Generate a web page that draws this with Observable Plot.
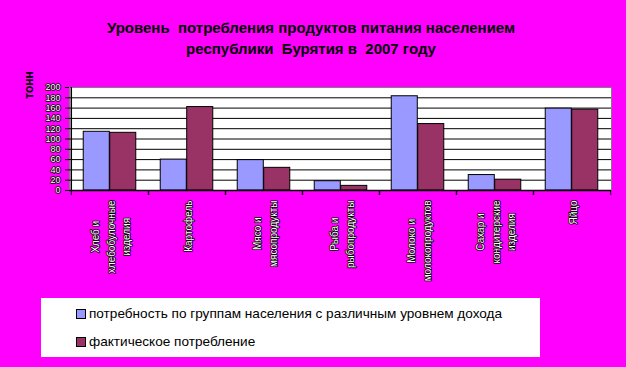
<!DOCTYPE html>
<html>
<head>
<meta charset="utf-8">
<script src="https://cdn.jsdelivr.net/npm/d3@7"></script>
<script src="https://cdn.jsdelivr.net/npm/@observablehq/plot@0.6"></script>
<style>
  html, body { margin: 0; padding: 0; background: #FF00FF; }
  #wrap { position: relative; width: 626px; height: 367px; background: #FF00FF; overflow: hidden; font-family: Arial, "Liberation Sans", sans-serif; }
  #title { position: absolute; left: 0; width: 622px; top: 17px; text-align: center; font-weight: bold; font-size: 15px; line-height: 21px; color: #000; white-space: pre; }
  #chart { position: absolute; left: 0; top: 0; }
  #legend { position: absolute; left: 41px; top: 298px; width: 499px; height: 59px; background: #fff; font-size: 13.6px; color: #000; }
  .row { position: absolute; left: 35px; height: 16px; line-height: 16px; white-space: nowrap; }
  .sw { display: inline-block; width: 8px; height: 8px; border: 1px solid #000; margin-right: 3px; vertical-align: -1px; }
</style>
</head>
<body>
<div id="wrap">
  <div id="chart"></div>
  <div id="title"></div>
  <div id="legend"></div>
</div>
<script>
const titleLines = ["Уровень  потребления продуктов питания населением", "республики  Бурятия в  2007 году"];
const categories = ["Хлеб и\nхлебобулочные\nизделия", "Картофель", "Мясо и\nмясопродукты", "Рыба и\nрыбопродукты", "Молоко и\nмолокопродуктов", "Сахар и\nкондитерские\nизделия", "Яйцо"];
const seriesNames = ["потребность по группам населения с различным уровнем дохода", "фактическое потребление"];
const needValues = [114, 60, 59, 18, 183, 30, 159];
const actualValues = [112, 162, 44, 9, 129, 21, 157];
const seriesColors = ["#9999FF", "#993366"];
const yTicks = [0, 20, 40, 60, 80, 100, 120, 140, 160, 180, 200];
const yLabel = "тонн";

const W = 626, H = 367, mL = 69, mR = 15, mT = 87, mB = 177;
const step = (W - mL - mR) / categories.length;
const pad = step * 0.158, bw = step * 0.342;

const needData = categories.map((c, i) => ({cat: c, v: needValues[i]}));
const actualData = categories.map((c, i) => ({cat: c, v: actualValues[i]}));

document.getElementById("title").textContent = titleLines.join("\n");
const leg = document.getElementById("legend");
seriesNames.forEach((s, i) => {
  const r = document.createElement("div");
  r.className = "row";
  r.style.top = (i === 0 ? 8 : 36) + "px";
  const sw = document.createElement("span");
  sw.className = "sw";
  sw.style.background = seriesColors[i];
  r.appendChild(sw);
  r.appendChild(document.createTextNode(s));
  leg.appendChild(r);
});

const chart = Plot.plot({
  width: W, height: H,
  marginLeft: mL, marginRight: mR, marginTop: mT, marginBottom: mB,
  style: {background: "transparent", fontFamily: "Arial, 'Liberation Sans', sans-serif", overflow: "visible"},
  x: {domain: categories, padding: 0, axis: null},
  y: {domain: [0, 200], axis: null},
  marks: [
    Plot.frame({fill: "white", stroke: "#808080"}),
    Plot.ruleY(yTicks.filter(t => t > 0 && t < 200), {stroke: "black", strokeWidth: 1}),
    Plot.barY(needData, {x: "cat", y: "v", fill: seriesColors[0], stroke: "black", strokeWidth: 1, insetLeft: pad, insetRight: step - pad - bw}),
    Plot.barY(actualData, {x: "cat", y: "v", fill: seriesColors[1], stroke: "black", strokeWidth: 1, insetLeft: step - pad - bw, insetRight: pad}),
    Plot.ruleY([0], {stroke: "black", strokeWidth: 1.5}),
    Plot.ruleX([categories[0]], {stroke: "black", strokeWidth: 1.5, dx: -step / 2}),
    Plot.axisX({tickSize: 5, tickFormat: () => "", label: null, dx: -step / 2, stroke: "black"}),
    Plot.axisX({tickSize: 5, tickFormat: () => "", label: null, dx: step / 2, stroke: "black"}),
    Plot.axisY({ticks: yTicks, tickSize: 4, tickFormat: () => "", label: null, stroke: "black"}),
    Plot.text(yTicks, {y: d => d, text: d => String(d), frameAnchor: "left", dx: -9, textAnchor: "end", fontSize: 9, fill: "white", stroke: "black", strokeWidth: 1.6, paintOrder: "stroke"}),
    Plot.text(categories, {x: d => d, text: d => d, frameAnchor: "bottom", dy: 10, rotate: -90, textAnchor: "end", lineAnchor: "middle", lineHeight: 1.55, fontSize: 10, fill: "white", stroke: "black", strokeWidth: 1.6, paintOrder: "stroke"}),
    Plot.text([yLabel], {frameAnchor: "top-left", dx: -45, dy: -2.5, rotate: -90, textAnchor: "middle", fontWeight: "bold", fontSize: 12, fill: "black"})
  ]
});
document.getElementById("chart").appendChild(chart);

// center lines of multi-line rotated labels within their block (block top stays aligned)
chart.querySelectorAll("text").forEach(t => {
  const spans = Array.from(t.querySelectorAll("tspan"));
  if (spans.length > 1) {
    const lens = spans.map(s => s.getComputedTextLength());
    const m = Math.max(...lens);
    spans.forEach((s, i) => { s.setAttribute("x", -(m - lens[i]) / 2); });
  }
});
</script>
</body>
</html>
